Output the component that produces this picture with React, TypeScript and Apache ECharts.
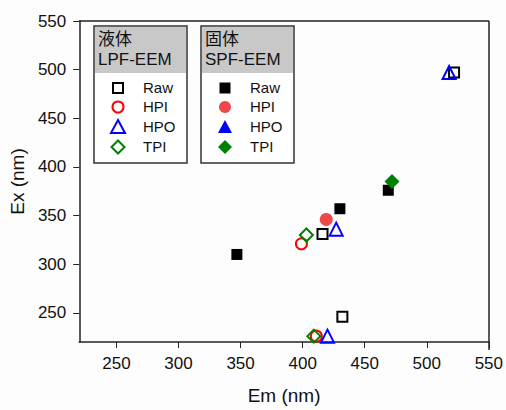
import React, { useEffect, useRef } from "react";
import * as echarts from "echarts";

const xTicks = [250, 300, 350, 400, 450, 500, 550];
const yTicks = [250, 300, 350, 400, 450, 500, 550];

// Liquid (LPF-EEM), open markers: [Em, Ex]
const lpfRaw = [[522, 497], [416, 331], [432, 246]];
const lpfHPI = [[399, 321], [411, 226]];
const lpfHPO = [[518, 497], [427, 336], [420, 226]];
const lpfTPI = [[403, 330], [409, 226]];

// Solid (SPF-EEM), filled markers
const spfRaw = [[347, 310], [430, 357], [469, 376]];
const spfHPI = [[419, 346]];
const spfHPO: number[][] = [];
const spfTPI = [[472, 385]];

const legendLabels = ["Raw", "HPI", "HPO", "TPI"];

const FONT = "'Liberation Sans', Arial, sans-serif";
const CJK = "'Noto Sans CJK JP', 'Liberation Sans', sans-serif";

export default function App() {
  const ref = useRef<HTMLDivElement>(null);
  useEffect(() => {
    if (!ref.current) return;
    const chart = echarts.init(ref.current, null, { renderer: "svg" });
    const open = (color: string) => ({ color: "rgba(0,0,0,0)", borderColor: color, borderWidth: 2, opacity: 1 });
    const scat = (name: string, data: number[][], symbol: string, size: number, itemStyle: any) => ({
      name,
      type: "scatter",
      data,
      symbol,
      symbolSize: size,
      itemStyle: { opacity: 1, ...itemStyle },
      emphasis: { disabled: true },
    });

    const box = (x: number, title1: string, title2: string, filled: boolean) => {
      const w = 93;
      const y = 26;
      const h = 137;
      const mx = x + 24;
      const tx = x + 49;
      const rows = [88, 107, 127, 147];
      const children: any[] = [
        { type: "rect", shape: { x, y, width: w, height: h }, style: { fill: "#fff", stroke: "#333", lineWidth: 1.5 } },
        { type: "rect", shape: { x: x + 1, y: y + 1, width: w - 2, height: 46 }, style: { fill: "#c8c8c8" } },
        { type: "text", x: x + 4, y: y + 3, style: { text: title1, font: `17px ${CJK}`, fill: "#111" } },
        { type: "text", x: x + 4, y: y + 25, style: { text: title2, font: `17px ${FONT}`, fill: "#111" } },
      ];
      const colors = ["#000", filled ? "#f04848" : "#ff0000", "#0000ff", "#008000"];
      legendLabels.forEach((lab, i) => {
        const cy = rows[i];
        const c = colors[i];
        const st = filled ? { fill: c } : { fill: "none", stroke: c, lineWidth: 2 };
        if (i === 0) {
          const s = filled ? 11 : 10;
          children.push({ type: "rect", shape: { x: mx - s / 2, y: cy - s / 2, width: s, height: s }, style: st });
        } else if (i === 1) {
          children.push({ type: "circle", shape: { cx: mx, cy, r: filled ? 6 : 5.5 }, style: st });
        } else if (i === 2) {
          children.push({ type: "polygon", shape: { points: [[mx, cy - 7], [mx + 7, cy + 6], [mx - 7, cy + 6]] }, style: st });
        } else {
          const r = filled ? 7 : 6.5;
          children.push({ type: "polygon", shape: { points: [[mx, cy - r], [mx + r, cy], [mx, cy + r], [mx - r, cy]] }, style: st });
        }
        children.push({ type: "text", x: tx, y: cy - 8, style: { text: lab, font: `15px ${FONT}`, fill: "#111" } });
      });
      return { type: "group", children };
    };

    chart.setOption({
      animation: false,
      backgroundColor: "#fdfdfd",
      grid: { left: 79, right: 17, top: 21, bottom: 60 },
      xAxis: {
        type: "value",
        min: 220,
        max: 550,
        name: "Em (nm)",
        nameLocation: "middle",
        nameGap: 44,
        nameTextStyle: { fontSize: 19, fontFamily: FONT, color: "#111" },
        axisLine: { show: true, lineStyle: { color: "#222", width: 1.5 } },
        axisTick: { show: true, length: 6, lineStyle: { color: "#222" }, customValues: xTicks },
        axisLabel: { fontSize: 17, fontFamily: FONT, color: "#111", margin: 13, customValues: xTicks },
        splitLine: { show: false },
      },
      yAxis: {
        type: "value",
        min: 220,
        max: 550,
        name: "Ex (nm)",
        nameLocation: "middle",
        nameGap: 45,
        nameTextStyle: { fontSize: 19, fontFamily: FONT, color: "#111" },
        axisLine: { show: true, lineStyle: { color: "#222", width: 1.5 } },
        axisTick: { show: true, length: 6, lineStyle: { color: "#222" }, customValues: yTicks },
        axisLabel: { fontSize: 17, fontFamily: FONT, color: "#111", margin: 13, customValues: yTicks },
        splitLine: { show: false },
      },
      graphic: [
        { type: "line", shape: { x1: 79, y1: 21, x2: 489, y2: 21 }, style: { stroke: "#222", lineWidth: 1.5 } },
        { type: "line", shape: { x1: 489, y1: 21, x2: 489, y2: 350 }, style: { stroke: "#222", lineWidth: 1.5 } },
        box(94, "液体", "LPF-EEM", false),
        box(201, "固体", "SPF-EEM", true),
      ],
      series: [
        scat("SPF Raw", spfRaw, "rect", 11, { color: "#000" }),
        scat("SPF HPI", spfHPI, "circle", 13, { color: "#f04848" }),
        scat("SPF HPO", spfHPO, "triangle", 13, { color: "#0000ff" }),
        scat("SPF TPI", spfTPI, "diamond", 15, { color: "#008000" }),
        scat("LPF Raw", lpfRaw, "rect", 10, open("#000")),
        scat("LPF HPI", lpfHPI, "circle", 11, open("#ff0000")),
        scat("LPF HPO", lpfHPO, "triangle", 13, open("#0000ff")),
        scat("LPF TPI", lpfTPI, "diamond", 13, open("#008000")),
      ],
    });
    return () => chart.dispose();
  }, []);
  return <div ref={ref} style={{ position: "fixed", left: 0, top: 0, width: 506, height: 410 }} />;
}
